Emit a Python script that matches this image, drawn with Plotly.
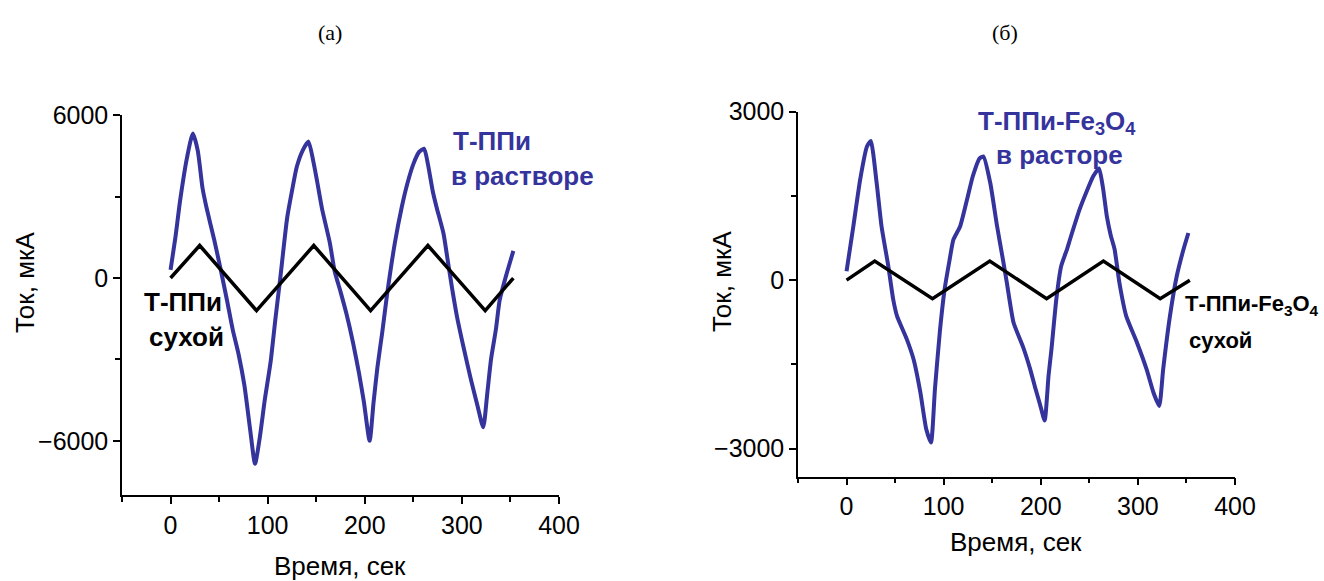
import plotly.graph_objects as go

# ---------------- data ----------------
# Panel (а): Т-ППи
LB_x = [0, 5, 10, 17, 23, 28, 33, 37, 45, 51,
        58, 64, 70, 76, 82, 87, 92, 97, 103, 108,
        113, 120, 125, 130, 136, 142, 147, 151, 156, 164,
        169, 175, 181, 188, 194, 199, 205, 209, 213, 218,
        223, 231, 238, 244, 250, 256, 261, 265, 270, 274,
        281, 285, 290, 295, 302, 309, 316, 322, 326, 330,
        335, 339, 346, 353]
LB_y = [300, 1500, 2900, 4450, 5330, 4700, 3300, 2600, 1400, 420,
        -800, -1900, -2800, -3950, -5600, -6850, -5850, -4500, -3100, -1500,
        0, 2200, 3200, 4100, 4700, 5030, 4300, 3550, 2550, 1300,
        250, -500, -1300, -2400, -3500, -4550, -6000, -4600, -3300, -2000,
        -600, 1300, 2600, 3500, 4200, 4650, 4770, 4200, 3200, 2600,
        1650, 750, -400, -1430, -2600, -3700, -4700, -5500, -4300, -3000,
        -1900, -800, 150, 1000]
LK_x = [0, 30, 88.5, 147.5, 206, 265, 324, 353]
LK_y = [0, 1200, -1200, 1200, -1200, 1200, -1200, 0]

# Panel (б): Т-ППи-Fe3O4
RB_x = [0, 7, 14, 21, 25, 31, 36, 43, 48, 52,
        62, 69, 76, 82, 87, 91, 96, 101, 106, 110,
        117, 124, 130, 137, 141, 148, 155, 161, 165, 172,
        182, 189, 194, 199, 204, 208, 211, 216, 221, 227,
        230, 240, 247, 254, 260, 264, 268, 272, 276, 281,
        288, 299, 309, 316, 322, 326, 333, 340, 347, 352]
RB_y = [160, 960, 1790, 2380, 2480, 1730, 960, 250, -340, -640,
        -1050, -1410, -2000, -2650, -2890, -1940, -930, -160, 350, 720,
        960, 1430, 1850, 2170, 2200, 1730, 960, 370, -40, -760,
        -1200, -1580, -1900, -2200, -2500, -1700, -1230, -340, 250, 550,
        720, 1260, 1570, 1850, 1990, 1650, 1140, 800, 550, -50,
        -640, -1110, -1590, -2000, -2240, -1590, -640, 70, 550, 840]
RK_x = [0, 29, 88.5, 147.5, 206, 264.5, 323, 353.5]
RK_y = [0, 340, -330, 340, -330, 340, -330, 0]

X_TITLE = "Время, сек"
Y_TITLE = "Ток, мкА"
PANEL_TITLES = ["(а)", "(б)"]

# ---------------- style ----------------
W, H = 1324, 581
BLUE = "#35349c"
SANS = "Liberation Sans, Arial, sans-serif"
SERIF = "Liberation Serif, Times New Roman, serif"

fig = go.Figure()
fig.add_trace(go.Scatter(x=LB_x, y=LB_y, mode="lines", xaxis="x", yaxis="y",
                         line=dict(color=BLUE, width=4, shape="spline", smoothing=0.6),
                         showlegend=False, hoverinfo="skip"))
fig.add_trace(go.Scatter(x=LK_x, y=LK_y, mode="lines", xaxis="x", yaxis="y",
                         line=dict(color="black", width=3.5),
                         showlegend=False, hoverinfo="skip"))
fig.add_trace(go.Scatter(x=RB_x, y=RB_y, mode="lines", xaxis="x2", yaxis="y2",
                         line=dict(color=BLUE, width=4, shape="spline", smoothing=0.5),
                         showlegend=False, hoverinfo="skip"))
fig.add_trace(go.Scatter(x=RK_x, y=RK_y, mode="lines", xaxis="x2", yaxis="y2",
                         line=dict(color="black", width=3.5),
                         showlegend=False, hoverinfo="skip"))

def ax(**kw):
    d = dict(showline=True, linecolor="black", linewidth=1.5,
             ticks="outside", ticklen=7, tickwidth=1.5, tickcolor="black",
             showgrid=False, zeroline=False, automargin=False,
             tickfont=dict(family=SANS, size=25, color="black"),
             minor=dict(ticks="outside", ticklen=5, tickwidth=1.5,
                        tickcolor="black", showgrid=False))
    d.update(kw)
    return d

def px_x(p):
    return p / W

def px_y(p):
    return 1 - p / H

fig.update_layout(
    template="none",
    width=W, height=H,
    margin=dict(l=0, r=0, t=0, b=0, autoexpand=False),
    paper_bgcolor="white", plot_bgcolor="white",
    showlegend=False,
    xaxis=ax(domain=[px_x(122), px_x(559)], range=[-50, 400], tick0=0, dtick=100,
             anchor="y", minor_dtick=50),
    yaxis=ax(domain=[px_y(495), px_y(115.3)], range=[-8000, 6000], tick0=0, dtick=6000,
             anchor="x", minor_dtick=3000),
    xaxis2=ax(domain=[px_x(798), px_x(1235)], range=[-50, 400], tick0=0, dtick=100,
              anchor="y2", minor_dtick=50),
    yaxis2=ax(domain=[px_y(476.7), px_y(111.7)], range=[-3500, 3000], tick0=0, dtick=3000,
              anchor="x2", minor_dtick=1500),
)

def label(text, x, y, color, xanchor="left", size=26, bold=True, family=SANS, angle=0):
    fig.add_annotation(text=f"<b>{text}</b>" if bold else text,
                       x=px_x(x), y=px_y(y), xref="paper", yref="paper",
                       xanchor=xanchor, yanchor="middle", showarrow=False,
                       textangle=angle,
                       font=dict(family=family, size=size, color=color))

# axis titles
label(X_TITLE, 340, 566, "black", xanchor="center", size=26, bold=False)
label(X_TITLE, 1016, 542, "black", xanchor="center", size=26, bold=False)
label(Y_TITLE, 25, 283, "black", xanchor="center", size=26, bold=False, angle=-90)
label(Y_TITLE, 722, 281, "black", xanchor="center", size=26, bold=False, angle=-90)

# panel titles
label(PANEL_TITLES[0], 330, 32, "black", xanchor="center", size=22, bold=False, family=SERIF)
label(PANEL_TITLES[1], 1005, 32, "black", xanchor="center", size=22, bold=False, family=SERIF)

# curve labels
label("Т-ППи", 451, 141, BLUE)
label("в растворе", 449, 176, BLUE)
label("Т-ППи", 142, 302, "black")
label("сухой", 147, 337, "black")

label("Т-ППи-Fe<sub>3</sub>O<sub>4</sub>", 976, 122, BLUE)
label("в расторе", 994, 155, BLUE)
label("Т-ППи-Fe<sub>3</sub>O<sub>4</sub>", 1183, 305, "black", size=22)
label("сухой", 1187, 340, "black", size=22)

fig.write_html("out.html",
               config={"displayModeBar": False},
               post_script="document.body.style.margin='0';document.body.style.overflow='hidden';")
